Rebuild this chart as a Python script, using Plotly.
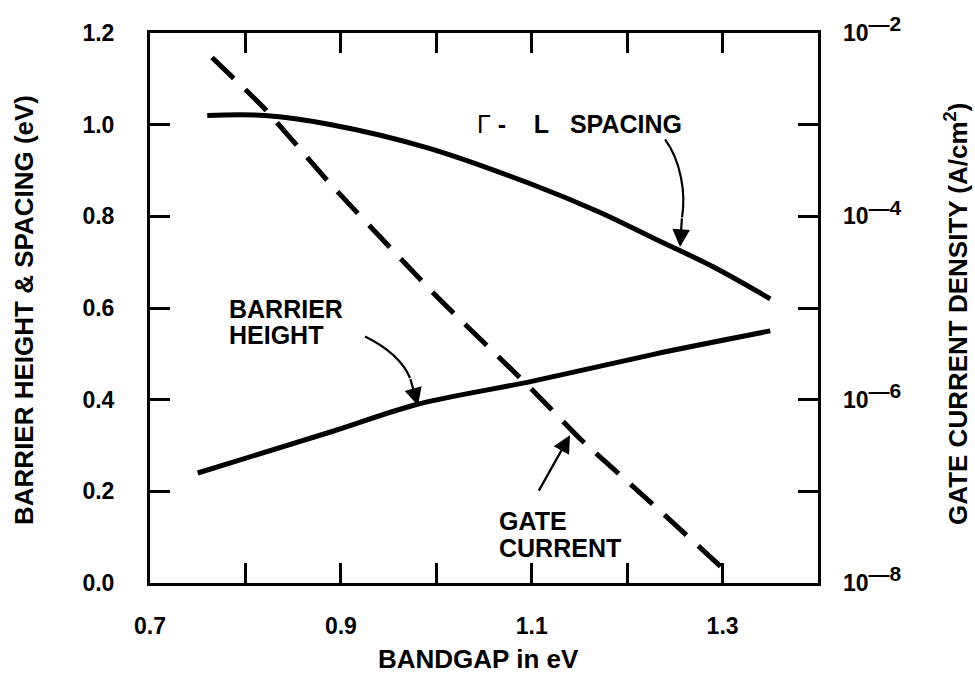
import plotly.graph_objects as go

# Γ–L valley spacing (eV) against bandgap (eV)
gl_bandgap = [0.76, 0.82, 0.89, 0.99, 1.10, 1.17, 1.23, 1.29, 1.35]
gl_spacing = [1.02, 1.02, 1.00, 0.95, 0.87, 0.81, 0.75, 0.69, 0.62]

# Schottky barrier height (eV) against bandgap (eV)
bh_bandgap = [0.75, 0.89, 0.98, 1.10, 1.23, 1.35]
bh_height = [0.24, 0.33, 0.39, 0.44, 0.50, 0.55]

# Gate current density (A/cm^2) against bandgap (eV)
gc_bandgap = [0.765, 0.82, 0.89, 1.00, 1.10, 1.15, 1.22, 1.30]
gc_density = [5.4e-3, 1.5e-3, 2.2e-4, 1.35e-5, 1.3e-6, 3.8e-7, 8.4e-8, 1.45e-8]

# Axis ticks and labels
x_ticks = [0.7, 0.8, 0.9, 1.0, 1.1, 1.2, 1.3, 1.4]
x_labels = ["0.7", "", "0.9", "", "1.1", "", "1.3", ""]
y_ticks = [0.0, 0.2, 0.4, 0.6, 0.8, 1.0, 1.2]
y_labels = ["0.0", "0.2", "0.4", "0.6", "0.8", "1.0", "1.2"]
j_ticks = [1e-8, 1e-6, 1e-4, 1e-2]
j_exponents = ["8", "6", "4", "2"]
j_labels = [f"10<sup><span style='font-size:21px'>—{e}</span></sup>" for e in j_exponents]

FONT = "Liberation Sans, Arial, Helvetica, sans-serif"
INK = "black"

fig = go.Figure()

fig.add_trace(go.Scatter(
    x=gl_bandgap, y=gl_spacing, mode="lines",
    line=dict(color=INK, width=5, shape="spline", smoothing=1.0),
    name="Γ-L spacing", hoverinfo="x+y",
))
fig.add_trace(go.Scatter(
    x=bh_bandgap, y=bh_height, mode="lines",
    line=dict(color=INK, width=5, shape="spline", smoothing=0.8),
    name="Barrier height", hoverinfo="x+y",
))
fig.add_trace(go.Scatter(
    x=gc_bandgap, y=gc_density, mode="lines", yaxis="y2",
    line=dict(color=INK, width=5, dash="30px,16px", shape="spline", smoothing=0.4),
    name="Gate current", hoverinfo="x+y",
))


def px_to_data(px, py):
    """Convert a position on the plotting area to bandgap / left-axis units."""
    return 0.7 + (px - 150) * 0.7 / 668.0, (583 - py) * 1.2 / 558.0


def curve(points):
    pts = [px_to_data(*p) for p in points]
    (x0, y0), (x1, y1), (x2, y2), (x3, y3) = pts
    return f"M {x0:.4f},{y0:.4f} C {x1:.4f},{y1:.4f} {x2:.4f},{y2:.4f} {x3:.4f},{y3:.4f}"


# Curved leader lines for the labels
fig.add_shape(type="path", xref="x", yref="y",
              path=curve([(665, 133), (681, 155), (686, 188), (682, 212)]),
              line=dict(color=INK, width=2.2))
fig.add_shape(type="path", xref="x", yref="y",
              path=curve([(365, 333), (385, 343), (402, 356), (410, 375)]),
              line=dict(color=INK, width=2.2))

arrow_font = dict(family=FONT, size=25, color=INK, weight="bold")

# Arrow heads
for (tx, ty), (dx, dy) in [((680, 242), (2, -30)), ((418, 403), (-8, -28)), ((570, 433), (-32, 57))]:
    ax_, ay_ = px_to_data(tx, ty)
    fig.add_annotation(x=ax_, y=ay_, xref="x", yref="y", text="", showarrow=True,
                       ax=dx, ay=dy, arrowhead=2, arrowsize=1.6, arrowwidth=2.2,
                       arrowcolor=INK, standoff=0)

# Curve labels
NB = "\u00a0"
labels = [
    (f"<span style='font-weight:normal'>Γ</span>{NB}-{NB * 4}L{NB * 3}SPACING", 475, 117),
    ("BARRIER", 227, 305),
    ("HEIGHT", 227, 331),
    ("GATE", 497, 520),
    ("CURRENT", 497, 547),
]
for text, lx, ly in labels:
    dxv, dyv = px_to_data(lx, ly)
    fig.add_annotation(x=dxv, y=dyv, xref="x", yref="y", text=text, showarrow=False,
                       xanchor="left", yanchor="middle", font=arrow_font)

title_font = dict(family=FONT, size=26, color=INK, weight="bold")
fig.add_annotation(x=(24 - 150) / 668, y=(583 - 306) / 558, xref="paper", yref="paper",
                   text="BARRIER HEIGHT & SPACING (eV)", textangle=-90, showarrow=False,
                   xanchor="center", yanchor="middle", font=title_font)
fig.add_annotation(x=(957 - 150) / 668, y=(583 - 310) / 558, xref="paper", yref="paper",
                   text="GATE CURRENT DENSITY (A/cm<sup>2</sup>)", textangle=-90, showarrow=False,
                   xanchor="center", yanchor="middle", font=title_font)
fig.add_annotation(x=(478 - 150) / 668, y=(583 - 660) / 558, xref="paper", yref="paper",
                   text="BANDGAP in eV", showarrow=False,
                   xanchor="center", yanchor="middle", font=title_font)

tick_font = dict(family=FONT, size=23, color=INK, weight="bold")

fig.update_layout(
    width=975, height=687,
    margin=dict(l=150, r=157, t=25, b=104),
    plot_bgcolor="white", paper_bgcolor="white",
    showlegend=False,
    font=dict(family=FONT, color=INK, size=23),
    xaxis=dict(
        range=[0.7, 1.4], tickmode="array", tickvals=x_ticks, ticktext=x_labels,
        ticks="inside", ticklen=20, tickwidth=3, tickcolor=INK,
        showline=True, linewidth=3, linecolor=INK, mirror="ticks",
        showgrid=False, zeroline=False, tickfont=tick_font, ticklabelstandoff=20,
    ),
    yaxis=dict(
        range=[0, 1.2], tickmode="array", tickvals=y_ticks, ticktext=y_labels,
        ticks="inside", ticklen=20, tickwidth=3, tickcolor=INK,
        showline=True, linewidth=3, linecolor=INK, mirror="ticks",
        showgrid=False, zeroline=False, tickfont=tick_font, ticklabelstandoff=28,
    ),
    yaxis2=dict(
        type="log", range=[-8, -2], overlaying="y", side="right",
        tickmode="array", tickvals=j_ticks, ticktext=j_labels,
        ticks="", showline=False, showgrid=False, zeroline=False,
        tickfont=tick_font, ticklabelstandoff=24,
    ),
)

fig.write_html("out.html")
